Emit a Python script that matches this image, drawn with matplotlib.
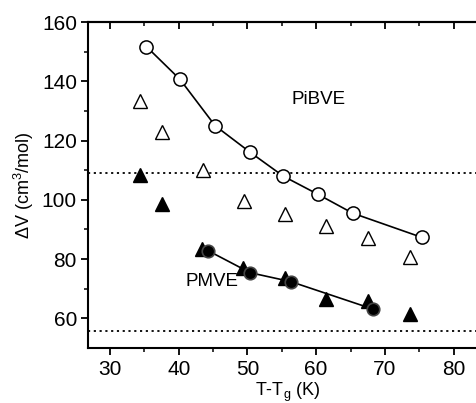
import matplotlib
matplotlib.use("Agg")
import matplotlib.pyplot as plt
from matplotlib.ticker import MultipleLocator

plt.rcParams['font.family'] = ['Liberation Sans', 'DejaVu Sans']

# PiBVE (open circles, joined)
pibve_x = [35.3, 40.2, 45.3, 50.3, 55.2, 60.3, 65.3, 75.4]
pibve_y = [151.7, 140.6, 125.0, 116.2, 108.0, 101.8, 95.5, 87.3]

# open triangles
open_tri_x = [34.4, 37.5, 43.5, 49.5, 55.5, 61.5, 67.5, 73.6]
open_tri_y = [133.5, 123.0, 109.9, 99.6, 95.2, 91.2, 87.0, 80.8]

# filled triangles
fill_tri_x = [34.4, 37.5, 43.4, 49.4, 55.4, 61.4, 67.5, 73.6]
fill_tri_y = [108.4, 98.6, 83.3, 77.1, 73.5, 66.7, 65.7, 61.4]

# PMVE (filled circles, joined)
pmve_x = [44.3, 50.4, 56.3, 68.3]
pmve_y = [82.8, 75.4, 72.4, 63.1]

# horizontal reference levels
ref_levels = [109.2, 55.9]

fig = plt.figure(figsize=(4.77, 4.03), dpi=100)
ax = fig.add_axes([88/477, (403-347.7)/403, 400/477, (347.7-22)/403])

ax.set_xlim(26.8, 85.0)
ax.set_ylim(50.1, 160)

for lv in ref_levels:
    ax.axhline(lv, color='black', lw=1.3, ls=(0, (1.2, 2.0)), zorder=1)

ax.plot(pibve_x, pibve_y, '-', color='black', lw=1.2, zorder=2)
ax.plot(pibve_x, pibve_y, 'o', ms=9.5, mfc='white', mec='black', mew=1.1, zorder=4)

ax.plot(pmve_x, pmve_y, '-', color='black', lw=1.2, zorder=2)

ax.plot(open_tri_x, open_tri_y, '^', ms=9.5, mfc='white', mec='black', mew=1.0,
        ls='none', zorder=3)
ax.plot(fill_tri_x, fill_tri_y, '^', ms=9.5, mfc='black', mec='black', mew=1.0,
        ls='none', zorder=3)
ax.plot(pmve_x, pmve_y, 'o', ms=9, mfc='black', mec='#444444', mew=1.2,
        ls='none', zorder=5)

ax.text(60.3, 134, 'PiBVE', ha='center', va='center', fontsize=13.5)
ax.text(44.8, 72.6, 'PMVE', ha='center', va='center', fontsize=13.5)

for s in ['left', 'bottom', 'top']:
    ax.spines[s].set_linewidth(1.5)
ax.spines['right'].set_visible(False)

ax.xaxis.set_major_locator(MultipleLocator(10))
ax.xaxis.set_minor_locator(MultipleLocator(5))
ax.yaxis.set_major_locator(MultipleLocator(20))
ax.yaxis.set_minor_locator(MultipleLocator(10))
ax.tick_params(which='major', direction='out', length=5, width=1.3, labelsize=15)
ax.tick_params(which='minor', direction='out', length=3, width=1.1)
ax.tick_params(axis='x', pad=4)
ax.tick_params(axis='y', pad=3)

# top axis with inward ticks
top = ax.secondary_xaxis('top')
top.xaxis.set_major_locator(MultipleLocator(10))
top.xaxis.set_minor_locator(MultipleLocator(5))
top.tick_params(which='major', direction='in', length=5, width=1.3, labeltop=False)
top.tick_params(which='minor', direction='in', length=3, width=1.1)
top.spines['top'].set_linewidth(1.5)

ax.set_xlabel('T-T$_\\mathregular{g}$ (K)', fontsize=13, labelpad=1)
ax.set_ylabel('ΔV (cm$^\\mathregular{3}$/mol)', fontsize=13, labelpad=4)

fig.savefig('out.png', dpi=100)
